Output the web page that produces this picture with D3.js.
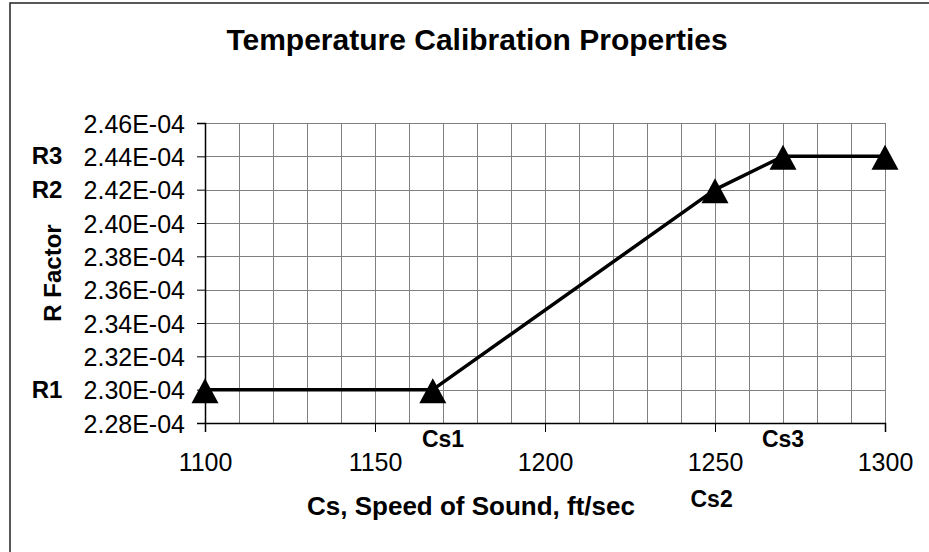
<!DOCTYPE html>
<html>
<head>
<meta charset="utf-8">
<script src="https://cdn.jsdelivr.net/npm/d3@7"></script>
<style>
  html, body { margin: 0; padding: 0; background: #fff; }
  svg { display: block; font-family: "Liberation Sans", Arial, sans-serif; }
</style>
</head>
<body>
<svg id="chart" width="929" height="552"></svg>
<script>
// ---- data ----
const speeds = [1100, 1167, 1250, 1270, 1300];
const rFactors = [2.30e-4, 2.30e-4, 2.42e-4, 2.44e-4, 2.44e-4];
const xTickValues = [1100, 1150, 1200, 1250, 1300];
const xGridValues = d3.range(1100, 1301, 10);
const yTickValues = [2.28e-4, 2.30e-4, 2.32e-4, 2.34e-4, 2.36e-4, 2.38e-4, 2.40e-4, 2.42e-4, 2.44e-4, 2.46e-4];
const rLabels = ["R1", "R2", "R3"];
const rLabelValues = [2.30e-4, 2.42e-4, 2.44e-4];
const csLabels = ["Cs1", "Cs2", "Cs3"];
const csLabelValues = [1170, 1249, 1270];
const titleText = "Temperature Calibration Properties";
const xTitle = "Cs, Speed of Sound, ft/sec";
const yTitle = "R Factor";

// ---- layout ----
const svg = d3.select("#chart");
const pLeft = 205, pRight = 885, pTop = 123, pBottom = 423;

const x = d3.scaleLinear().domain([1100, 1300]).range([pLeft, pRight]);
const y = d3.scaleLinear().domain([2.28e-4, 2.46e-4]).range([pBottom, pTop]);

// outer frame (extends past the window on right/bottom)
svg.append("rect").attr("x", 10).attr("y", 3).attr("width", 1000).attr("height", 700)
  .attr("fill", "none").attr("stroke", "#222").attr("stroke-width", 1.5);

// grid
const grid = svg.append("g").attr("stroke", "#808080").attr("stroke-width", 1).attr("shape-rendering", "crispEdges");
grid.selectAll("line.v").data(xGridValues).join("line")
  .attr("x1", d => Math.round(x(d)) + 0.5).attr("x2", d => Math.round(x(d)) + 0.5)
  .attr("y1", pTop).attr("y2", pBottom);
grid.selectAll("line.h").data(yTickValues).join("line")
  .attr("y1", d => Math.round(y(d)) + 0.5).attr("y2", d => Math.round(y(d)) + 0.5)
  .attr("x1", pLeft).attr("x2", pRight);

// y axis
const yAxis = d3.axisLeft(y).tickValues(yTickValues).tickSize(8).tickPadding(12)
  .tickFormat(d => (d * 1e4).toFixed(2) + "E-04");
const gy = svg.append("g").attr("transform", `translate(${pLeft},0)`).call(yAxis);
gy.select(".domain").attr("stroke", "#000").attr("stroke-width", 1.5);
gy.selectAll(".tick line").attr("stroke", "#000");
gy.selectAll(".tick text").attr("font-size", 25).attr("fill", "#000")
  .attr("font-family", "Liberation Sans, Arial, sans-serif").attr("dy", "0.36em");

// x axis
const xAxis = d3.axisBottom(x).tickValues(xTickValues).tickSize(9).tickPadding(6).tickFormat(d3.format("d"));
const gx = svg.append("g").attr("transform", `translate(0,${pBottom})`).call(xAxis);
gx.select(".domain").attr("stroke", "#000").attr("stroke-width", 1.5);
gx.selectAll(".tick line").attr("stroke", "#000");
gx.selectAll(".tick text").attr("font-size", 25).attr("fill", "#000")
  .attr("font-family", "Liberation Sans, Arial, sans-serif").attr("y", 48).attr("dy", 0);

// line
const line = d3.line().x((d, i) => x(speeds[i])).y(d => y(d));
svg.append("path").datum(rFactors).attr("d", line)
  .attr("fill", "none").attr("stroke", "#000").attr("stroke-width", 3.5).attr("stroke-linejoin", "round");

// triangle markers
const tri = "M0,-12.5L13.5,12.5L-13.5,12.5Z";
svg.selectAll("path.mk").data(rFactors).join("path")
  .attr("class", "mk").attr("d", tri).attr("fill", "#000")
  .attr("transform", (d, i) => `translate(${x(speeds[i])},${y(d) + 1})`);

// title
svg.append("text").attr("x", 477).attr("y", 50).attr("text-anchor", "middle")
  .attr("font-size", 30).attr("font-weight", "bold").text(titleText);

// x title
svg.append("text").attr("x", 471).attr("y", 515).attr("text-anchor", "middle")
  .attr("font-size", 26).attr("font-weight", "bold").text(xTitle);

// y title
svg.append("text").attr("transform", "translate(61,273) rotate(-90)").attr("text-anchor", "middle")
  .attr("font-size", 24).attr("font-weight", "bold").text(yTitle);

// R labels
svg.selectAll("text.rl").data(rLabels).join("text").attr("class", "rl")
  .attr("x", 47).attr("y", (d, i) => y(rLabelValues[i]) + 8).attr("text-anchor", "middle")
  .attr("font-size", 24).attr("font-weight", "bold").text(d => d);

// Cs labels
const csY = [447, 507, 447];
svg.selectAll("text.cl").data(csLabels).join("text").attr("class", "cl")
  .attr("x", (d, i) => x(csLabelValues[i])).attr("y", (d, i) => csY[i]).attr("text-anchor", "middle")
  .attr("font-size", 23).attr("font-weight", "bold").text(d => d);
</script>
</body>
</html>
